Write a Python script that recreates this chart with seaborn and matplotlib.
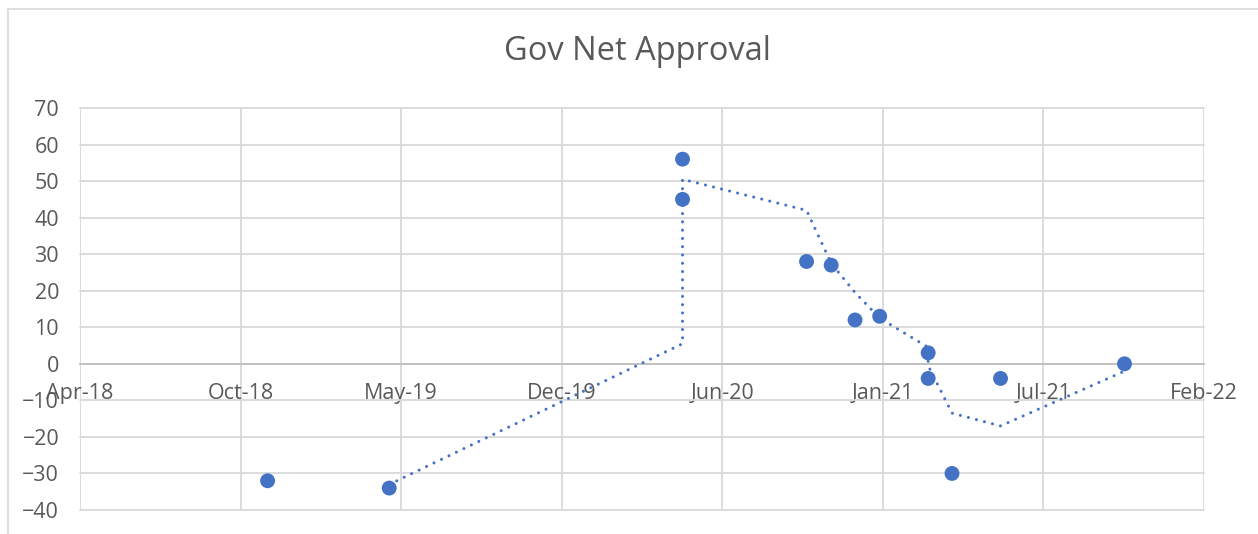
import numpy as np
import pandas as pd
import matplotlib
matplotlib.use('Agg')
import matplotlib.pyplot as plt
import matplotlib.dates as mdates
from matplotlib.lines import Line2D
import seaborn as sns


# poll dates and net approval values
poll_dates = ['2018-11-27', '2019-04-29', '2020-05-02', '2020-05-02',
              '2020-10-05', '2020-11-05', '2020-12-05', '2021-01-05',
              '2021-03-07', '2021-03-07', '2021-04-06', '2021-06-06',
              '2021-11-09']
net_approval = [-32, -34, 45, 56, 28, 27, 12, 13, -4, 3, -30, -4, 0]

x_tick_labels = ['Apr-18', 'Oct-18', 'May-19', 'Dec-19', 'Jun-20',
                 'Jan-21', 'Jul-21', 'Feb-22']
y_ticks = [-40, -30, -20, -10, 0, 10, 20, 30, 40, 50, 60, 70]

BLUE = '#4472C4'
GRID = '#D9D9D9'
TEXT = '#595959'

df = pd.DataFrame({'date': pd.to_datetime(poll_dates), 'net': net_approval})
# 2-period moving average trendline (Excel style, in data order)
df['ma'] = df['net'].rolling(2).mean()
trend = df.dropna()

sns.set_style('white')
plt.rcParams['font.family'] = ['Open Sans', 'DejaVu Sans']

fig = plt.figure(figsize=(12.58, 5.34), dpi=100)
ax = fig.add_axes([80 / 1258, 1 - 510 / 534, (1204 - 80) / 1258, (510 - 108) / 534])

sns.lineplot(data=trend, x='date', y='ma', ax=ax, sort=False, estimator=None,
             color=BLUE, lw=2.2, linestyle=(0, (0.01, 2.7)),
             dash_capstyle='round', zorder=3)
sns.scatterplot(data=df, x='date', y='net', ax=ax, color=BLUE, s=115,
                edgecolor='none', zorder=4)

# axis ticks every 202 days starting at Apr-18
tick_start = pd.Timestamp('2018-04-05')
tick_pos = [tick_start + pd.Timedelta(days=202 * i) for i in range(len(x_tick_labels))]
ax.set_xticks(tick_pos)
ax.set_xticklabels(x_tick_labels)
ax.set_xlim(tick_pos[0], tick_pos[-1])
ax.set_ylim(-40, 70)
ax.set_yticks(y_ticks)
ax.set_xlabel('')
ax.set_ylabel('')

ax.grid(True, color=GRID, lw=1.3)
ax.set_axisbelow(True)
for gl in ax.get_xgridlines() + ax.get_ygridlines():
    gl.set_clip_on(False)
for side in ['top', 'right', 'left']:
    ax.spines[side].set_visible(False)
ax.spines['bottom'].set_position(('data', 0))
ax.spines['bottom'].set_color('#BFBFBF')
ax.spines['bottom'].set_linewidth(1.3)

ax.tick_params(axis='x', length=0, pad=14, labelsize=15.5, labelcolor=TEXT)
ax.tick_params(axis='y', length=0, pad=15, labelsize=15.5, labelcolor=TEXT)

fig.text(0.507, 1 - 52 / 534, 'Gov Net Approval', ha='center', va='center',
         fontsize=23.5, color=TEXT)

# chart area border (partly cropped)
fig.add_artist(Line2D([8 / 1258, 8 / 1258], [0, 1 - 9 / 534],
                      transform=fig.transFigure, color=GRID, lw=1.2))
fig.add_artist(Line2D([8 / 1258, 1], [1 - 9 / 534, 1 - 9 / 534],
                      transform=fig.transFigure, color=GRID, lw=1.2))

fig.savefig('out.png', dpi=100)
